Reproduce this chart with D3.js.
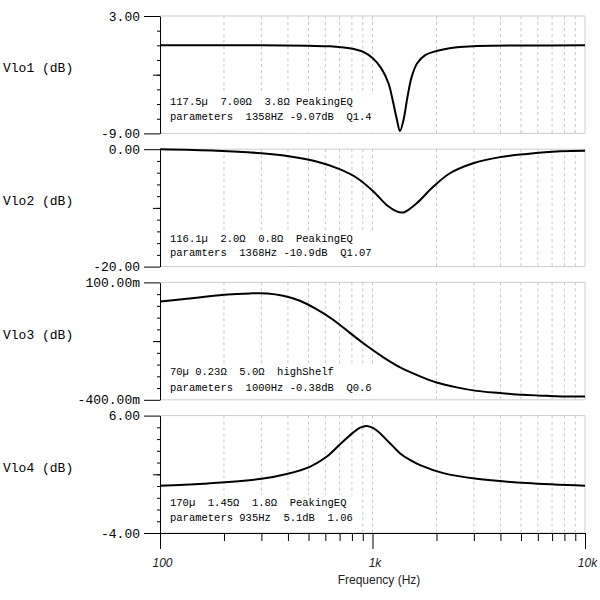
<!DOCTYPE html>
<html>
<head>
<meta charset="utf-8">
<script src="https://cdn.jsdelivr.net/npm/d3@7"></script>
<style>
  html, body { margin: 0; padding: 0; background: #fff; }
  svg { display: block; }
</style>
</head>
<body>
<svg id="chart" width="600" height="600"></svg>
<script>
// frequency response of the four stages (Hz, dB)
const freq1 = [100, 300, 500, 630, 780, 900, 1000, 1100, 1190, 1250, 1300, 1347, 1400, 1460, 1530, 1620, 1770, 2000, 2500, 3000, 5000, 10000];
const vlo1 = [0, 0, -0.05, -0.1, -0.3, -0.65, -1.3, -2.35, -3.9, -5.8, -7.5, -8.75, -7.6, -5.3, -3.2, -1.85, -1.0, -0.58, -0.2, -0.08, -0.02, 0];

const freq2 = [100, 185, 300, 410, 545, 700, 845, 1010, 1165, 1300, 1370, 1420, 1615, 1930, 2315, 2980, 3980, 5320, 7630, 10000];
const vlo2 = [0, -0.25, -0.7, -1.25, -2.1, -3.4, -4.9, -7.2, -9.5, -10.6, -10.8, -10.7, -9.2, -6.4, -4.1, -2.4, -1.35, -0.8, -0.35, -0.25];

const freq3 = [100, 130, 200, 265, 320, 380, 455, 545, 655, 785, 940, 1125, 1350, 1675, 2000, 2490, 3090, 3980, 5125, 6600, 8500, 10000];
const vlo3 = [0.019, 0.029, 0.047, 0.053, 0.053, 0.043, 0.022, -0.014, -0.06, -0.116, -0.17, -0.219, -0.262, -0.3, -0.326, -0.347, -0.362, -0.371, -0.379, -0.383, -0.386, -0.386];

const freq4 = [100, 160, 295, 395, 510, 610, 700, 810, 875, 940, 1010, 1085, 1165, 1250, 1350, 1500, 1675, 2155, 3090, 5320, 10000];
const vlo4 = [0.02, 0.19, 0.59, 1.02, 1.66, 2.51, 3.51, 4.55, 4.98, 5.12, 4.93, 4.5, 3.93, 3.38, 2.78, 2.22, 1.78, 1.1, 0.62, 0.25, 0.02];

const panelNames = ['Vlo1 (dB)', 'Vlo2 (dB)', 'Vlo3 (dB)', 'Vlo4 (dB)'];
const yTop = [3, 0, 0.1, 6];
const yBottom = [-9, -20, -0.4, -4];
const yEndLabels = [['3.00', '-9.00'], ['0.00', '-20.00'], ['100.00m', '-400.00m'], ['6.00', '-4.00']];
const yDivisions = [8, 10, 10, 10];
const notes = [
  ['117.5µ  7.00Ω  3.8Ω PeakingEQ', 'parameters  1358HZ -9.07dB  Q1.4'],
  ['116.1µ  2.0Ω  0.8Ω  PeakingEQ', 'paramters  1368Hz -10.9dB  Q1.07'],
  ['70µ 0.23Ω  5.0Ω  highShelf', 'parameters  1000Hz -0.38dB  Q0.6'],
  ['170µ  1.45Ω  1.8Ω  PeakingEQ', 'parameters 935Hz  5.1dB  1.06'],
];
const xMajor = [100, 1000, 10000];
const xTickLabels = ['100', '1k', '10k'];

const series = [
  { freq: freq1, val: vlo1 },
  { freq: freq2, val: vlo2 },
  { freq: freq3, val: vlo3 },
  { freq: freq4, val: vlo4 },
];

// layout
const left = 160, right = 585;
const panelTop = 16, panelHeight = 117.4, panelStep = 133.2;
const noteOffsets = [[28, 13], [25, 10.5], [25, 9], [27, 12]];
const mono = '"Liberation Mono", "Courier New", monospace';
const sans = '"Liberation Sans", Arial, sans-serif';

const svg = d3.select('#chart');
const x = d3.scaleLog().domain([100, 10000]).range([left, right]);

const minorFreqs = d3.range(2, 10).map((d) => d * 100)
  .concat(d3.range(2, 10).map((d) => d * 1000));
const gridFreqs = minorFreqs.concat([1000]);

series.forEach((s, i) => {
  const top = panelTop + i * panelStep;
  const bottom = top + panelHeight;
  const y = d3.scaleLinear().domain([yBottom[i], yTop[i]]).range([bottom, top]);
  const g = svg.append('g');

  // dashed vertical grid
  g.selectAll('line.grid')
    .data(gridFreqs)
    .join('line')
    .attr('class', 'grid')
    .attr('x1', (d) => x(d))
    .attr('x2', (d) => x(d))
    .attr('y1', top)
    .attr('y2', bottom)
    .attr('stroke', '#c8c8c8')
    .attr('stroke-dasharray', '3,3');

  // light frame
  g.append('path')
    .attr('d', `M${left},${top}H${right}V${bottom}H${left}`)
    .attr('fill', 'none')
    .attr('stroke', '#cdcdcd');

  // annotation with a white box behind it
  const noteBox = g.append('rect').attr('fill', '#fff');
  const noteText = g.append('g')
    .attr('font-family', mono)
    .attr('font-size', 10.5)
    .attr('fill', '#000');
  notes[i].forEach((line, k) => {
    noteText.append('text')
      .attr('x', 170)
      .attr('y', bottom - noteOffsets[i][k])
      .style('white-space', 'pre')
      .text(line);
  });
  const noteWidth = d3.max(noteText.selectAll('text').nodes(), (n) => n.getComputedTextLength());
  noteBox
    .attr('x', 167)
    .attr('y', bottom - noteOffsets[i][0] - 11)
    .attr('width', noteWidth + 6)
    .attr('height', noteOffsets[i][0] + 10);

  // response curve
  const line = d3.line()
    .x((d) => x(d[0]))
    .y((d) => y(d[1]))
    .curve(d3.curveCatmullRom.alpha(0.5));
  g.append('path')
    .datum(d3.zip(s.freq, s.val))
    .attr('d', line)
    .attr('fill', 'none')
    .attr('stroke', '#000')
    .attr('stroke-width', 2);

  // y axis: short minor ticks, one medium tick in the middle, long end ticks
  const step = (yTop[i] - yBottom[i]) / yDivisions[i];
  const yTicks = d3.range(yDivisions[i] + 1).map((k) => yBottom[i] + k * step);
  const midTick = yTicks[yDivisions[i] / 2];

  g.append('g')
    .attr('transform', `translate(${left},0)`)
    .call(d3.axisLeft(y).tickValues(yTicks.slice(1, -1)).tickSize(3).tickSizeOuter(0).tickFormat(''))
    .call((a) => a.select('.domain').remove());

  g.append('g')
    .attr('transform', `translate(${left},0)`)
    .call(d3.axisLeft(y).tickValues([midTick]).tickSize(7).tickSizeOuter(0).tickFormat(''))
    .call((a) => a.select('.domain').remove());

  g.append('g')
    .attr('transform', `translate(${left},0)`)
    .call(
      d3.axisLeft(y)
        .tickValues([yTop[i], yBottom[i]])
        .tickSize(16)
        .tickSizeOuter(0)
        .tickPadding(4)
        .tickFormat((d) => (d === yTop[i] ? yEndLabels[i][0] : yEndLabels[i][1])),
    )
    .call((a) => a.selectAll('text')
      .attr('font-family', mono)
      .attr('font-size', 13)
      .attr('fill', '#000'));

  // panel name
  svg.append('text')
    .attr('x', 3)
    .attr('y', (top + bottom) / 2 - 2.5)
    .attr('font-family', mono)
    .attr('font-size', 13)
    .attr('fill', '#000')
    .style('white-space', 'pre')
    .text(panelNames[i]);

  // frequency axis under the last panel
  if (i === series.length - 1) {
    g.append('g')
      .attr('transform', `translate(0,${bottom})`)
      .call(d3.axisBottom(x).tickValues(minorFreqs).tickSize(8).tickSizeOuter(0).tickFormat(''))
      .call((a) => a.select('.domain').remove());

    g.append('g')
      .attr('transform', `translate(0,${bottom})`)
      .call(
        d3.axisBottom(x)
          .tickValues(xMajor)
          .tickSize(16)
          .tickSizeOuter(0)
          .tickFormat((d, k) => xTickLabels[k]),
      )
      .call((a) => a.selectAll('text')
        .attr('y', 34)
        .attr('dy', null)
        .attr('dx', 2)
        .attr('font-family', sans)
        .attr('font-size', 12)
        .attr('font-style', 'italic')
        .attr('fill', '#222'));

    svg.append('text')
      .attr('x', 379)
      .attr('y', bottom + 51)
      .attr('text-anchor', 'middle')
      .attr('font-family', sans)
      .attr('font-size', 12)
      .attr('fill', '#222')
      .text('Frequency (Hz)');
  }
});
</script>
</body>
</html>
